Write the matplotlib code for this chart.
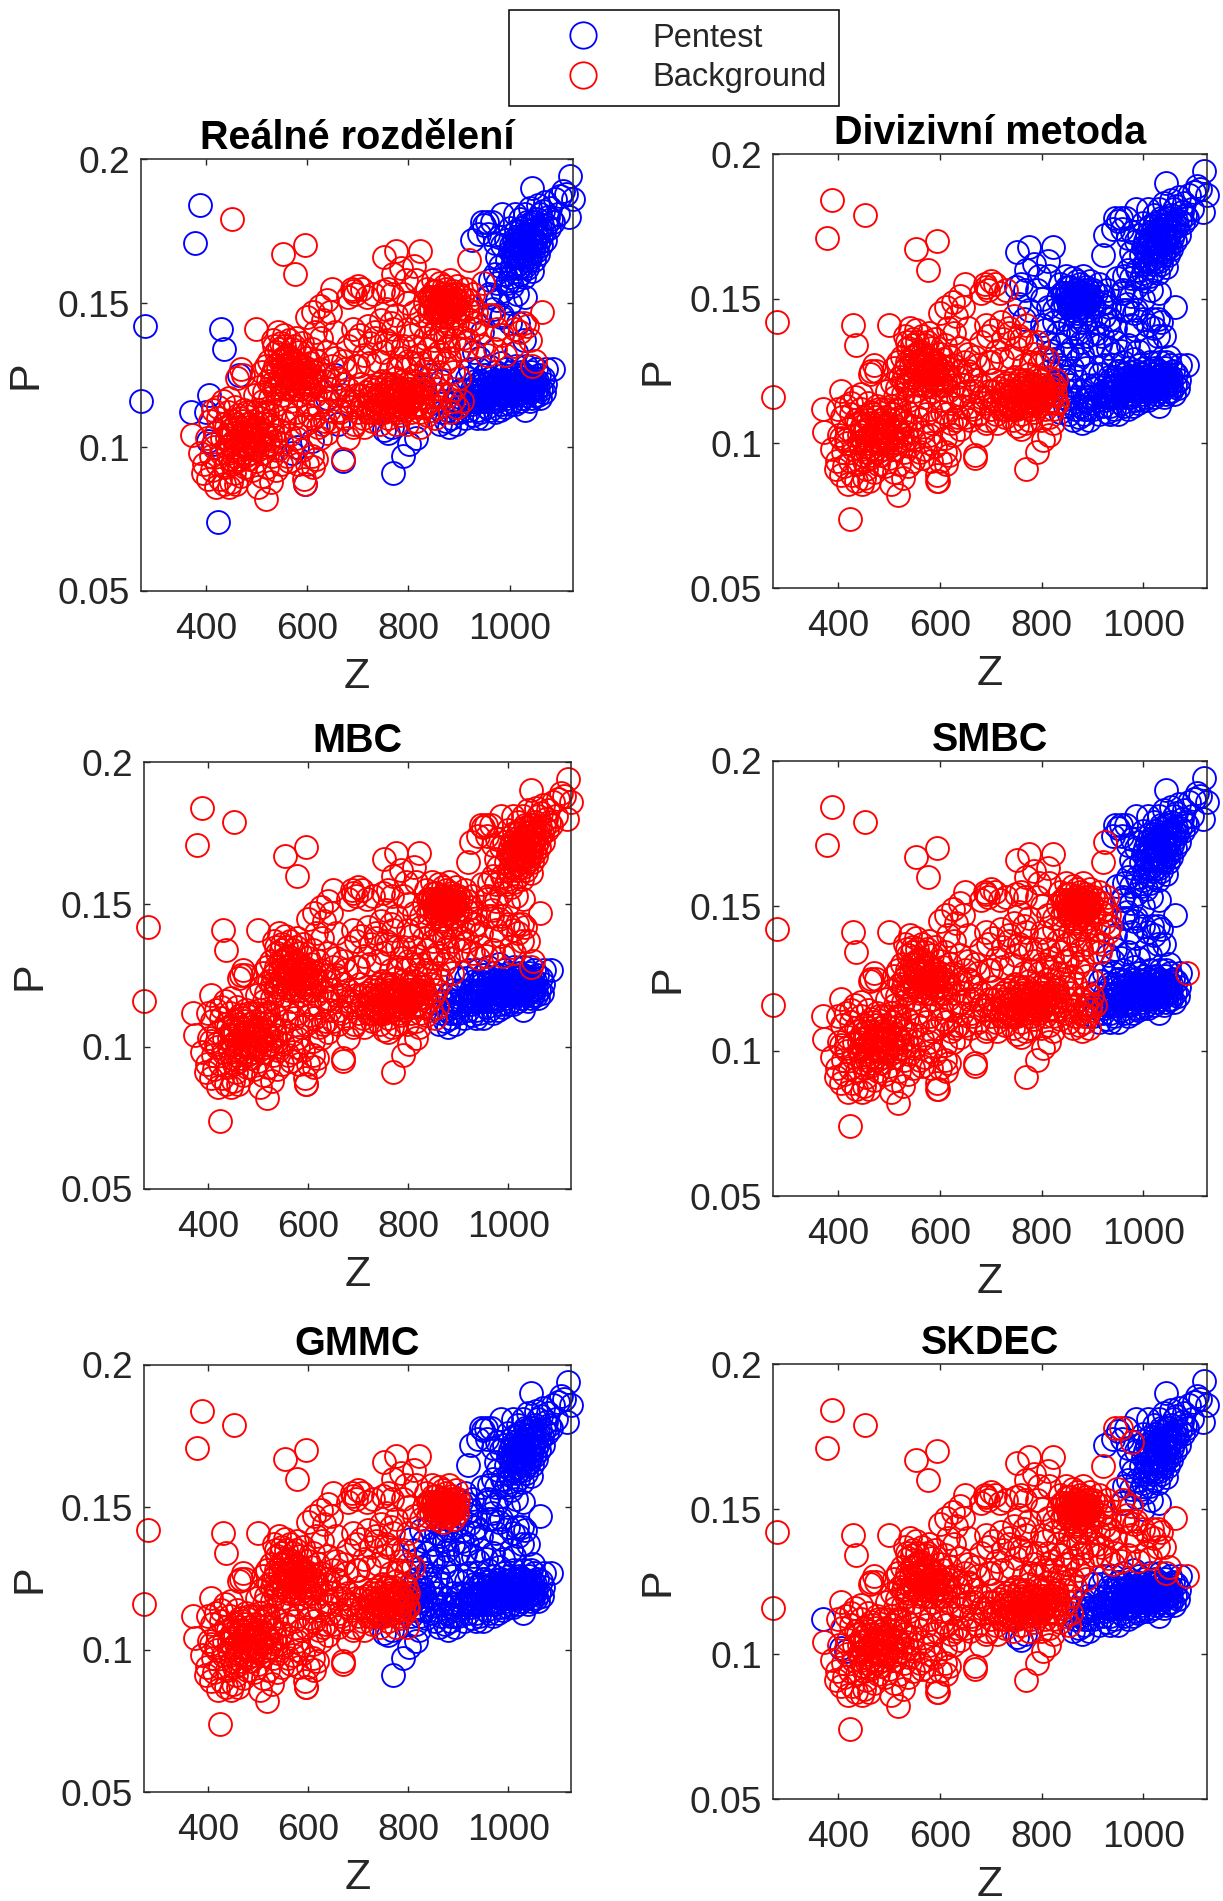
import numpy as np
import matplotlib
matplotlib.use("Agg")
import matplotlib.pyplot as plt
from matplotlib.lines import Line2D

plt.rcParams["font.family"] = ["Liberation Sans", "DejaVu Sans"]

# (Z, P), po skupinách podle toho jak se mění barva v panelech
red_outliers = [(452, .179), (553, .167), (595, .170), (577, .160)]
real_outliers = [(272, .116), (279, .142), (378, .171), (388, .184), (424, .074), (429, .141),
                 (436, .134), (400, .112), (406, .118), (465, .125), (595, .087), (610, .102),
                 (580, .100), (570, .098), (670, .095), (660, .108), (655, .125), (640, .117)]
left_blue = [(370, .112), (405, .102), (415, .101)]
tail = [(770, .091), (790, .097), (815, .103), (802, .101)]
tail_760 = [(760, .105), (768, .107), (752, .106)]

low_left = [(373, .104), (388, .098), (395, .091), (397, .094), (402, .103), (405, .089), (408, .109),
            (410, .097), (412, .092), (415, .113), (417, .100), (420, .086), (420, .105), (423, .094),
            (425, .110), (428, .089), (430, .098), (432, .103), (433, .116), (436, .087), (438, .093),
            (440, .107), (442, .100), (444, .112), (446, .086), (448, .096), (450, .088), (450, .104),
            (453, .109), (455, .091), (457, .099), (458, .114), (460, .087), (462, .095), (463, .103),
            (465, .107), (468, .110), (470, .090), (472, .098), (475, .105), (476, .113), (478, .093),
            (480, .101), (482, .108), (485, .096), (488, .104), (490, .112), (492, .092), (494, .100),
            (497, .107), (500, .095), (503, .086), (505, .103), (507, .110), (510, .090), (512, .098),
            (515, .105), (518, .082), (520, .093), (522, .101), (525, .108), (528, .088), (530, .097),
            (533, .104), (535, .111), (538, .092), (540, .099), (545, .106), (548, .094), (550, .101),
            (555, .109), (560, .097), (565, .104), (445, .117), (425, .114), (435, .108), (455, .102),
            (475, .100), (495, .104), (515, .112),
            (441, .103), (444, .098), (447, .106), (449, .101), (451, .094), (454, .105), (456, .097),
            (459, .108), (461, .100), (464, .111), (466, .096), (469, .104), (471, .101), (474, .109),
            (477, .097), (479, .105), (481, .112), (484, .100), (486, .107), (489, .098), (491, .103),
            (493, .109), (496, .101), (499, .106), (502, .099), (504, .108), (508, .102), (511, .106),
            (514, .100), (518, .104), (521, .109), (526, .103), (531, .107), (536, .102)]
mid_blob = [(462, .124), (470, .127), (474, .125), (500, .141), (497, .118), (503, .113), (505, .121),
            (510, .126), (512, .116), (515, .119), (518, .128), (520, .112), (522, .123), (525, .130),
            (527, .117), (530, .125), (532, .137), (534, .120), (536, .128), (538, .133), (540, .115),
            (542, .140), (544, .123), (546, .130), (548, .136), (550, .118), (552, .126), (554, .139),
            (556, .113), (558, .121), (560, .132), (562, .128), (564, .137), (566, .124), (568, .116),
            (570, .134), (572, .120), (574, .130), (576, .126), (578, .138), (580, .112), (582, .123),
            (584, .133), (586, .118), (588, .128), (590, .136), (592, .121), (595, .108), (597, .126),
            (600, .131), (602, .115), (604, .124), (606, .129), (608, .120), (610, .134), (612, .110),
            (614, .126), (616, .118), (618, .123), (620, .130), (622, .114), (625, .127), (628, .120),
            (630, .108), (633, .123), (636, .116), (640, .125), (643, .113), (646, .120), (650, .128),
            (655, .118), (660, .124), (665, .112), (670, .122), (675, .127), (680, .116), (545, .134),
            (555, .135), (565, .131), (575, .135), (585, .127), (595, .124), (535, .135), (550, .130),
            (528, .122), (533, .126), (538, .121), (543, .127), (547, .124), (551, .122), (553, .131),
            (557, .127), (559, .124), (561, .120), (563, .125), (567, .129), (569, .122), (571, .127),
            (573, .124), (577, .122), (579, .129), (581, .126), (583, .120), (587, .124), (589, .122),
            (591, .128), (593, .125), (598, .122), (601, .127), (603, .120), (607, .125), (611, .122)]
lower_mid = [(565, .095), (572, .110), (578, .103), (582, .094), (585, .107), (590, .099), (594, .089),
             (596, .087), (600, .094), (604, .111), (610, .097), (612, .093), (617, .096), (625, .103),
             (640, .105), (650, .109), (680, .103), (690, .107), (635, .109), (622, .107), (670, .096)]
mid_scatter = [(600, .145), (612, .147), (625, .149), (632, .144), (640, .151), (646, .147), (655, .140),
               (650, .155), (680, .152), (688, .155), (695, .153), (700, .156), (708, .155), (718, .152),
               (690, .141), (695, .137), (705, .139), (720, .142), (725, .136), (735, .138), (745, .144),
               (680, .135), (670, .130), (700, .128), (712, .132), (722, .129), (740, .130), (750, .133),
               (755, .137), (765, .127), (770, .141), (778, .135), (785, .131), (640, .133), (628, .138),
               (615, .140), (655, .131), (695, .128), (730, .153), (690, .154), (735, .140), (760, .136),
               (780, .128), (800, .130), (790, .135), (795, .127), (810, .129), (775, .124)]
band_a = [(662, .113), (668, .118), (674, .110), (680, .120), (686, .114), (692, .108), (696, .118),
          (700, .112), (704, .122), (708, .115), (712, .107), (716, .119), (720, .112), (724, .117),
          (728, .109), (732, .121), (736, .114), (740, .118), (744, .108), (748, .123), (750, .115),
          (752, .112), (756, .119), (760, .110), (762, .116), (766, .121), (770, .113), (772, .118),
          (776, .108), (778, .115), (782, .120), (784, .111), (788, .117), (790, .123), (792, .113),
          (796, .119), (798, .108), (800, .115), (705, .118), (715, .114), (725, .120), (735, .116),
          (745, .112), (755, .122), (765, .114), (775, .120), (785, .116), (795, .122), (690, .116),
          (710, .110), (730, .112), (750, .118), (770, .116), (780, .112),
          (722, .115), (727, .118), (733, .113), (738, .120), (742, .115), (747, .118), (753, .114),
          (758, .117), (761, .120), (764, .113), (768, .118), (773, .115), (777, .118), (781, .114),
          (786, .119), (789, .114), (793, .117), (797, .115), (799, .120), (759, .122), (769, .122), (739, .112)]
band_b = [(803, .120), (806, .112), (809, .117), (812, .123), (815, .109), (818, .115), (820, .120),
          (823, .112), (826, .117), (828, .122), (805, .116), (813, .118), (822, .107), (830, .114),
          (802, .117), (807, .119), (811, .114), (816, .119), (819, .117), (824, .120), (827, .114)]
band_c = [(833, .119), (836, .111), (840, .116), (843, .122), (846, .113), (850, .118), (853, .110),
          (856, .120), (858, .114)]
band_d = [(862, .108), (866, .112), (870, .116), (874, .109), (878, .113), (880, .107), (884, .110),
          (886, .115), (890, .112), (893, .108), (896, .116), (898, .119)]
band_e = [(880, .118), (890, .120), (883, .112), (900, .124), (895, .114), (888, .116), (905, .116)]
band_main = [(900, .112), (905, .120), (908, .115), (912, .110), (915, .124), (918, .117), (920, .113),
             (922, .127), (925, .120), (928, .111), (930, .116), (932, .123), (935, .113), (938, .119),
             (940, .127), (942, .112), (945, .116), (948, .122), (950, .110), (952, .125), (955, .114),
             (958, .119), (960, .128), (962, .113), (965, .117), (968, .123), (970, .112), (972, .126),
             (975, .116), (978, .120), (980, .113), (982, .129), (985, .118), (988, .123), (990, .114),
             (992, .127), (995, .117), (998, .121), (1000, .115), (1002, .126), (1005, .119), (1008, .123),
             (1010, .115), (1012, .128), (1015, .118), (1018, .122), (1020, .116), (1022, .126), (1025, .119),
             (1028, .123), (1030, .113), (1032, .128), (1035, .118), (1038, .122), (1040, .116), (1042, .126),
             (1045, .120), (1048, .124), (1050, .118), (1052, .127), (1055, .121), (1058, .125), (1060, .117),
             (1062, .120), (1065, .124), (1068, .119), (1070, .122), (1072, .127), (915, .117),
             (925, .115), (935, .122), (945, .120), (955, .118), (965, .121), (975, .119), (985, .115),
             (995, .120), (1005, .116), (1015, .120), (1025, .117), (1035, .121), (1045, .117), (1055, .118),
             (935, .110), (950, .125), (1000, .124), (1030, .125), (980, .121),
             (922, .118), (928, .116), (933, .119), (937, .116), (941, .118), (944, .123), (947, .118),
             (951, .116), (953, .120), (957, .122), (959, .116), (961, .120), (964, .124), (967, .119),
             (969, .116), (971, .121), (974, .123), (977, .117), (979, .122), (981, .118), (984, .121),
             (986, .125), (989, .119), (991, .122), (994, .124), (997, .118), (999, .123), (1001, .120),
             (1004, .122), (1007, .118), (1009, .125), (1011, .121), (1014, .124), (1017, .119),
             (1019, .124), (1021, .121), (1024, .123), (1027, .120), (1029, .125), (1031, .120),
             (1034, .124), (1037, .119), (1039, .124), (1041, .121), (1044, .123), (1047, .120),
             (1049, .122), (1051, .120), (1054, .123)]
red_band_end = [(1085, .127)]
band_side = [(815, .125), (825, .129), (835, .127), (850, .131), (860, .126), (872, .129), (888, .126)]
band_side_blue = [(842, .125), (830, .121), (865, .123)]

upper_a = [(751, .166), (775, .168), (822, .168), (785, .162), (812, .163), (815, .158), (760, .155),
           (750, .154), (768, .153), (790, .153), (755, .148), (770, .160), (800, .150), (775, .146),
           (795, .158), (812, .147), (765, .143), (800, .141)]
upper_b = [(832, .150), (836, .155), (840, .147), (844, .152), (848, .158), (852, .149), (855, .154),
           (858, .146), (860, .151), (862, .157), (865, .148), (868, .153), (870, .145), (872, .150),
           (875, .155), (878, .147), (880, .152), (882, .158), (885, .149), (888, .154), (890, .146),
           (892, .151), (895, .156), (898, .148), (900, .153), (845, .148), (855, .150), (865, .152),
           (875, .149), (885, .151), (850, .154), (870, .156), (825, .146), (840, .152),
           (847, .151), (851, .152), (853, .147), (857, .152), (859, .149), (861, .147), (863, .150),
           (867, .150), (869, .148), (871, .153), (873, .147), (874, .152), (877, .151), (879, .149),
           (881, .147), (883, .153), (886, .148), (889, .150), (891, .153), (894, .149), (897, .151)]
upper_c = [(806, .139), (812, .135), (820, .132), (825, .142), (832, .138), (838, .134), (842, .143),
           (850, .137), (855, .141), (860, .133), (866, .144), (872, .138), (878, .135), (884, .142),
           (890, .137), (896, .143), (880, .131), (900, .134), (845, .131), (864, .140), (876, .142)]
upper_d = [(903, .147), (906, .152), (910, .142), (913, .155), (916, .148), (918, .137), (920, .151),
           (922, .144), (925, .149), (928, .153), (930, .141), (933, .147), (914, .134), (908, .138),
           (935, .143)]
mid_right_a = [(948, .157), (960, .146), (967, .146), (975, .141), (985, .139), (1006, .135), (1034, .142),
               (1063, .147), (1020, .140), (990, .132), (945, .135), (955, .132), (1050, .130), (1010, .141),
               (1028, .143), (1040, .137), (970, .134), (1045, .128)]
mid_right_b = [(1017, .143), (1028, .137), (1000, .143), (985, .146), (945, .140), (940, .131), (960, .153),
               (975, .151), (968, .148), (982, .145), (1012, .133), (930, .133)]
skdec_top = [(945, .178), (955, .178), (978, .173)]
point_925 = [(925, .172)]
point_920 = [(920, .165)]
upper_right = [(1120, .194), (1112, .188), (1125, .186), (1118, .180), (1100, .187), (1045, .190),
               (1070, .185), (1080, .183), (1090, .186), (1105, .189), (1095, .181), (1085, .178),
               (1075, .180), (1065, .182), (1055, .184), (1048, .178), (1040, .183), (1030, .181),
               (1020, .179), (1010, .181), (985, .181), (965, .178), (950, .177), (940, .174), (958, .174),
               (1060, .176), (1050, .172), (1042, .175), (1035, .177), (1028, .173), (1020, .175), (1015, .170),
               (1008, .172), (1000, .168), (1000, .176), (992, .172), (985, .170), (975, .166), (970, .171),
               (1070, .172), (1062, .170), (1055, .167), (1048, .165), (1040, .169), (1032, .166), (1025, .168),
               (1018, .164), (1010, .166), (1002, .162), (995, .165), (988, .160), (980, .163), (970, .160),
               (1045, .161), (1035, .162), (1028, .159), (1020, .160), (1012, .158), (1005, .156), (995, .157),
               (985, .154), (975, .157), (962, .158), (958, .152), (1015, .153), (1030, .152), (1000, .150),
               (1042, .172), (1030, .170), (1052, .176), (1022, .171), (1038, .174), (1012, .175), (1060, .181),
               (1003, .170), (1006, .166), (1009, .169), (1012, .171), (1014, .167), (1016, .173), (1018, .168),
               (1021, .172), (1023, .166), (1026, .170), (1029, .167), (1031, .174), (1033, .169), (1036, .172),
               (1037, .167), (1039, .171), (1041, .166), (1043, .170), (1045, .174), (1046, .168), (1049, .171),
               (1051, .168), (1053, .173), (1056, .171), (1058, .175), (1061, .173), (1064, .177), (1067, .175),
               (1072, .177), (1077, .176), (1082, .179), (1024, .176), (1034, .178), (1044, .178), (1054, .179),
               (1016, .162), (1022, .163), (1030, .163), (1038, .165), (1005, .163), (1000, .159), (1012, .163)]

groups = {
    "red_outliers": red_outliers, "real_outliers": real_outliers, "left_blue": left_blue, "tail": tail,
    "tail_760": tail_760, "low_left": low_left, "mid_blob": mid_blob, "lower_mid": lower_mid,
    "mid_scatter": mid_scatter, "band_a": band_a, "band_b": band_b, "band_c": band_c, "band_d": band_d,
    "band_e": band_e, "band_main": band_main, "red_band_end": red_band_end, "band_side": band_side,
    "band_side_blue": band_side_blue, "upper_a": upper_a, "upper_b": upper_b, "upper_c": upper_c,
    "upper_d": upper_d, "mid_right_a": mid_right_a, "mid_right_b": mid_right_b, "skdec_top": skdec_top,
    "point_925": point_925, "point_920": point_920, "upper_right": upper_right,
}

titles = ["Reálné rozdělení", "Divizivní metoda", "MBC", "SMBC", "GMMC", "SKDEC"]
# které skupiny jsou v daném panelu modré (Pentest), zbytek červený
blue_groups = [
    ["real_outliers", "left_blue", "tail", "tail_760", "band_d", "band_main", "red_band_end", "band_side_blue",
     "mid_right_b", "skdec_top", "point_925", "upper_right"],
    ["band_c", "band_d", "band_e", "band_main", "red_band_end", "band_side", "band_side_blue", "upper_a", "upper_b",
     "upper_c", "upper_d", "mid_right_a", "mid_right_b", "skdec_top", "point_925", "point_920", "upper_right"],
    ["band_d", "band_e", "band_main", "red_band_end"],
    ["band_main", "mid_right_a", "mid_right_b", "skdec_top", "upper_right"],
    ["tail", "tail_760", "band_b", "band_c", "band_d", "band_e", "band_main", "red_band_end", "band_side",
     "band_side_blue", "upper_c", "upper_d", "mid_right_a", "mid_right_b", "skdec_top", "point_925", "point_920",
     "upper_right"],
    ["left_blue", "tail_760", "band_d", "band_e", "band_main", "point_925", "upper_right"],
]
# rámečky os v pixelech: left, right, top, bottom, pravý okraj popisku P
W, H = 1223, 1901
boxes = [(141, 573, 159, 591, 46), (773, 1207, 154, 588, 678), (144, 571, 762, 1189, 49),
         (773, 1207, 761, 1196, 688), (144, 571, 1365, 1792, 49), (773, 1207, 1364, 1799, 678)]
xticks = [400, 600, 800, 1000]
yticks = [.05, .1, .15, .2]
ylabels = ["0.05", "0.1", "0.15", "0.2"]
BLUE, RED = "#0000ff", "#ff0000"
GREY = "#262626"

fig = plt.figure(figsize=(W / 100, H / 100), dpi=100)
for title, blue, (l, r, t, b, px) in zip(titles, blue_groups, boxes):
    ax = fig.add_axes([l / W, 1 - b / H, (r - l) / W, (b - t) / H])
    pts_b = np.array([p for g in groups if g in blue for p in groups[g]])
    pts_r = np.array([p for g in groups if g not in blue for p in groups[g]])
    # v originále jsou červené kreslené až po modrých
    for pts, col in ((pts_b, BLUE), (pts_r, RED)):
        ax.plot(pts[:, 0], pts[:, 1], "o", mfc="none", mec=col, ms=16.5, mew=1.35, clip_on=False)
    ax.set_xlim(272, 1125); ax.set_ylim(.05, .2)
    ax.set_xticks(xticks); ax.set_yticks(yticks); ax.set_yticklabels(ylabels)
    ax.tick_params(direction="in", top=True, right=True, length=4.5, width=1, color=GREY,
                   labelcolor=GREY, labelsize=26.7)
    ax.tick_params(axis="x", pad=15)
    ax.tick_params(axis="y", pad=8)
    for s in ax.spines.values():
        s.set_linewidth(1.1); s.set_color(GREY)
    ax.set_title(title, fontsize=28.5, fontweight="bold", pad=7)
    ax.set_xlabel("Z", fontsize=31, color=GREY, labelpad=7)
    ax.set_ylabel("P", fontsize=31, color=GREY)
    ax.yaxis.set_label_coords((px - l) / (r - l), .5)

handles = [Line2D([], [], ls="", marker="o", mfc="none", mec=c, ms=19, mew=1.3) for c in (BLUE, RED)]
leg = fig.legend(handles, ["Pentest", "Background"], loc="center", bbox_to_anchor=(674 / W, 1 - 58 / H),
                 fontsize=23.5, frameon=True, fancybox=False, edgecolor="#000000", framealpha=1,
                 handletextpad=.25, borderpad=.4, labelspacing=.26, handlelength=3.74, borderaxespad=0)
leg.get_frame().set_linewidth(1.1)
for txt in leg.get_texts():
    txt.set_color(GREY)
fig.savefig("out.png", dpi=100)
plt.close(fig)
